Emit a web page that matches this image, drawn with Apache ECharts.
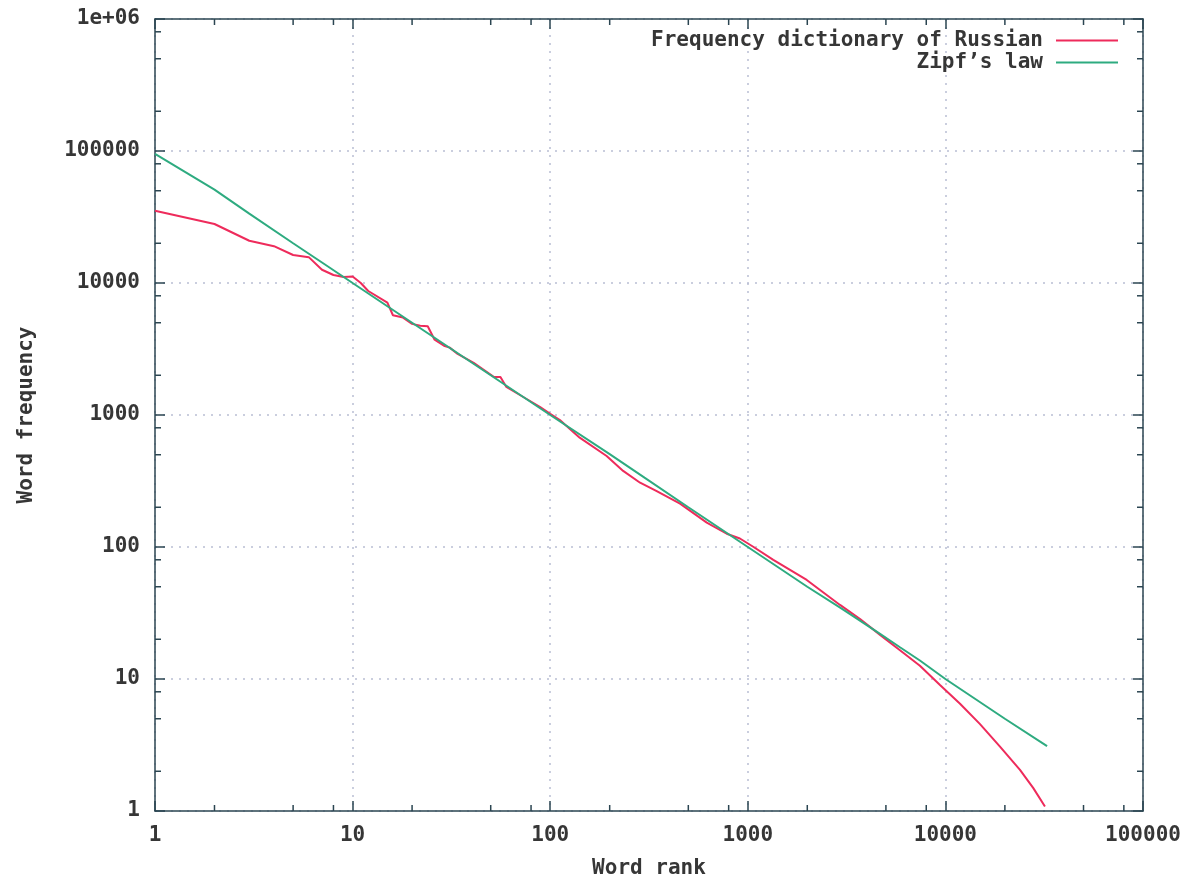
<!DOCTYPE html>
<html>
<head>
<meta charset="utf-8">
<script src="https://cdn.jsdelivr.net/npm/echarts@6/dist/echarts.min.js"></script>
<style>
  html, body { margin: 0; padding: 0; background: #fff; }
  #chart { width: 1187px; height: 879px; }
</style>
</head>
<body>
<div id="chart"></div>
<script>
// Frequency dictionary of Russian
var rankRu = [1, 2, 3, 4, 5, 6, 7, 8, 9, 10, 11, 12, 15, 16, 18, 20, 22, 24, 26, 29, 31, 34, 41, 52, 56, 60, 89, 100, 112, 121, 141, 193, 234, 285, 346, 454, 620, 782, 912, 1070, 1346, 1987, 2929, 3700, 4670, 5890, 7430, 9390, 11860, 14970, 18890, 23850, 27860, 31900];
var freqRu = [35300, 28000, 20900, 19000, 16300, 15700, 12600, 11500, 11100, 11200, 10000, 8700, 7100, 5700, 5470, 4900, 4750, 4700, 3720, 3350, 3240, 2900, 2480, 1940, 1940, 1630, 1150, 1020, 915, 826, 673, 489, 377, 307, 265, 213, 153, 126, 116, 100, 80, 56.3, 36.4, 28.5, 21.6, 16.5, 12.6, 9.0, 6.5, 4.55, 3.07, 2.05, 1.49, 1.08];

// Zipf's law line
var rankZipf = [1, 2, 3, 5, 7, 10, 20, 50, 100, 200, 300, 500, 1000, 2000, 3000, 4670, 5890, 7430, 10000, 20000, 32700];
var freqZipf = [95000, 51000, 33500, 20000, 14300, 10000, 5000, 2000, 1000, 505, 335, 200, 100, 50, 34, 22, 17.4, 13.8, 10, 5, 3.1];

// tick labels
var xTickLabels = ['1', '10', '100', '1000', '10000', '100000'];
var yTickLabels = ['1', '10', '100', '1000', '10000', '100000', '1e+06'];
// minor ticks (gnuplot style, 2 / 5 / 8 in each decade)
var xMinor = [2, 5, 8, 20, 50, 80, 200, 500, 800, 2000, 5000, 8000, 20000, 50000, 80000];
var yMinor = [2, 5, 8, 20, 50, 80, 200, 500, 800, 2000, 5000, 8000, 20000, 50000, 80000, 200000, 500000, 800000];

var FONT = 'DejaVu Sans Mono';
var frameColor = '#2b4551';
var textColor = '#363636';

function pairs(xs, ys) {
  return xs.map(function (x, i) { return [x, ys[i]]; });
}
function tickLabel(list) {
  return function (v) {
    var i = Math.round(Math.log10(v));
    return list[i] !== undefined ? list[i] : '';
  };
}

var chart = echarts.init(document.getElementById('chart'));

var logAxisCommon = {
  type: 'log',
  logBase: 10,
  axisLine: { show: true, onZero: false, lineStyle: { color: frameColor, width: 1.5 } },
  axisTick: { show: true, inside: true, length: 10, lineStyle: { color: frameColor, width: 1.5 } },
  minorTick: { show: false },
  splitLine: { show: false }
};
var gridDots = { show: true, lineStyle: { color: '#b9bfd3', width: 1.5, type: [2, 6] } };

var option = {
  animation: false,
  backgroundColor: '#fff',
  grid: {
    left: 155, right: 44, top: 19, bottom: 68,
    outerBoundsMode: 'none'
  },
  legend: {
    orient: 'vertical',
    right: 64,
    top: 25,
    align: 'right',
    icon: 'rect',
    itemWidth: 62,
    itemHeight: 2,
    itemGap: 1,
    selectedMode: false,
    textStyle: {
      fontFamily: FONT, fontSize: 21, fontWeight: 'bold', color: textColor,
      lineHeight: 21, padding: [0, 8, 0, 0]
    },
    data: ['Frequency dictionary of Russian', "Zipf\u2019s law"]
  },
  xAxis: [
    Object.assign({}, logAxisCommon, {
      min: 1, max: 100000,
      position: 'bottom',
      name: 'Word rank',
      nameLocation: 'middle',
      nameGap: 47,
      nameTextStyle: { fontFamily: FONT, fontSize: 21, fontWeight: 'bold', color: textColor },
      axisLabel: {
        margin: 14, fontFamily: FONT, fontSize: 21, fontWeight: 'bold', color: textColor,
        showMinLabel: true, showMaxLabel: true, hideOverlap: false,
        formatter: tickLabel(xTickLabels)
      },
      splitLine: gridDots
    }),
    Object.assign({}, logAxisCommon, {
      min: 1, max: 100000,
      position: 'top',
      axisLabel: { show: false }
    })
  ],
  yAxis: [
    Object.assign({}, logAxisCommon, {
      min: 1, max: 1000000,
      position: 'left',
      name: 'Word frequency',
      nameLocation: 'middle',
      nameGap: 118,
      nameTextStyle: { fontFamily: FONT, fontSize: 21, fontWeight: 'bold', color: textColor },
      axisLabel: {
        margin: 15, fontFamily: FONT, fontSize: 21, fontWeight: 'bold', color: textColor,
        showMinLabel: true, showMaxLabel: true,
        formatter: tickLabel(yTickLabels)
      },
      splitLine: gridDots
    }),
    Object.assign({}, logAxisCommon, {
      min: 1, max: 1000000,
      position: 'right',
      axisLabel: { show: false }
    })
  ],
  series: [
    {
      name: 'Frequency dictionary of Russian',
      type: 'line',
      data: pairs(rankRu, freqRu),
      symbol: 'none',
      lineStyle: { color: '#ee2b5b', width: 2 },
      itemStyle: { color: '#ee2b5b' },
      z: 3
    },
    {
      name: "Zipf\u2019s law",
      type: 'line',
      data: pairs(rankZipf, freqZipf),
      symbol: 'none',
      lineStyle: { color: '#2eab80', width: 2 },
      itemStyle: { color: '#2eab80' },
      z: 4
    },
    {
      // minor ticks on bottom and top
      type: 'custom',
      silent: true,
      data: xMinor.map(function (v) { return [v, 1]; }),
      renderItem: function (params, api) {
        var p = api.coord([api.value(0), 1]);
        var cs = params.coordSys;
        var st = { stroke: frameColor, lineWidth: 1.5 };
        return {
          type: 'group',
          children: [
            { type: 'line', shape: { x1: p[0], y1: cs.y + cs.height, x2: p[0], y2: cs.y + cs.height - 6 }, style: st },
            { type: 'line', shape: { x1: p[0], y1: cs.y, x2: p[0], y2: cs.y + 6 }, style: st }
          ]
        };
      },
      z: 5
    },
    {
      // minor ticks on left and right
      type: 'custom',
      silent: true,
      data: yMinor.map(function (v) { return [1, v]; }),
      renderItem: function (params, api) {
        var p = api.coord([1, api.value(1)]);
        var cs = params.coordSys;
        var st = { stroke: frameColor, lineWidth: 1.5 };
        return {
          type: 'group',
          children: [
            { type: 'line', shape: { x1: cs.x, y1: p[1], x2: cs.x + 6, y2: p[1] }, style: st },
            { type: 'line', shape: { x1: cs.x + cs.width, y1: p[1], x2: cs.x + cs.width - 6, y2: p[1] }, style: st }
          ]
        };
      },
      z: 5
    }
  ]
};

chart.setOption(option);
</script>
</body>
</html>
